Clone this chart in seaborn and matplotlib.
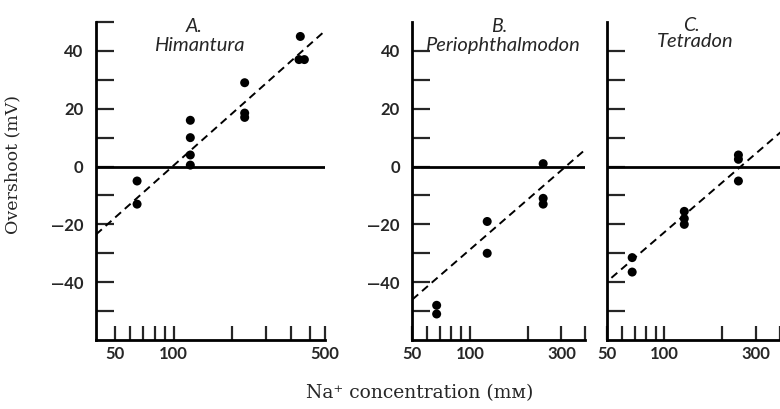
import numpy as np
import matplotlib
matplotlib.use("Agg")
import matplotlib.pyplot as plt
from matplotlib.ticker import NullLocator
import seaborn as sns

# Na+ concentration (mM) and overshoot (mV)
himantura_na = [65, 65, 122, 122, 122, 122, 232, 232, 232, 448, 441, 470]
himantura_os = [-5, -13, 16, 10, 4, 0.5, 29, 18.5, 17, 45, 37, 37]
himantura_fit_na = [40, 590]
himantura_fit_os = [-23.5, 46.5]

perio_na = [67, 67, 123, 123, 241, 241, 241]
perio_os = [-48, -51, -19, -30, 1, -11, -13]
perio_fit_na = [50, 410]
perio_fit_os = [-46, 6.5]

tetradon_na = [68, 68, 127, 127, 127, 243, 243, 243]
tetradon_os = [-31.5, -36.5, -15.5, -18, -20, 4, 2.5, -5]
tetradon_fit_na = [53, 405]
tetradon_fit_os = [-38.5, 12]

panel_letters = ["A.", "B.", "C."]
panel_names = ["Himantura", "Periophthalmodon", "Tetradon"]

x_ticks_a = [50, 60, 70, 80, 90, 100, 200, 300, 400, 500, 600]
x_labels_a = ["50", "", "", "", "", "100", "", "", "", "", "500"]
x_ticks_bc = [50, 60, 70, 80, 90, 100, 200, 300, 400]
x_labels_bc = ["50", "", "", "", "", "100", "", "300", ""]
y_label_vals = [40, 20, 0, -20, -40]

sns.set_style("ticks")
plt.rcParams["font.family"] = ["Lato", "DejaVu Sans"]

fig = plt.figure(figsize=(7.8, 4.09), dpi=100)
bottom, height = 0.1687, 0.7775
ax_a = fig.add_axes([0.1231, bottom, 0.2936, height])
ax_b = fig.add_axes([0.5286, bottom, 0.2218, height])
ax_c = fig.add_axes([0.7776, bottom, 0.2276, height])

panels = [
    (ax_a, himantura_na, himantura_os, himantura_fit_na, himantura_fit_os,
     (40, 600), x_ticks_a, x_labels_a, list(range(-50, 51, 10))),
    (ax_b, perio_na, perio_os, perio_fit_na, perio_fit_os,
     (50, 400), x_ticks_bc, x_labels_bc, list(range(-50, 41, 10))),
    (ax_c, tetradon_na, tetradon_os, tetradon_fit_na, tetradon_fit_os,
     (50, 420), x_ticks_bc, x_labels_bc, list(range(-50, 41, 10))),
]

title_pos = [(0.43, 0.985, 0.925), (0.50, 0.985, 0.925), (0.48, 0.99, 0.94)]

def ylab(v):
    if v in y_label_vals:
        return str(v).replace("-", "\u2014")
    return ""

for i, (ax, na, os_, fna, fos, xlim, xt, xl, yt) in enumerate(panels):
    ax.set_xscale("log")
    ax.axhline(0, color="black", lw=2, zorder=1)
    sns.lineplot(x=fna, y=fos, ax=ax, color="black", lw=1.4,
                 linestyle=(0, (4, 2.6)), zorder=2)
    sns.scatterplot(x=na, y=os_, ax=ax, color="black", s=42,
                    edgecolor="none", linewidth=0, zorder=3)
    ax.set_xlim(*xlim)
    ax.set_ylim(-60, 50)
    ax.xaxis.set_minor_locator(NullLocator())
    ax.set_xticks(xt)
    ax.set_xticklabels(xl)
    ax.set_yticks(yt)
    if i < 2:
        ax.set_yticklabels([ylab(v) for v in yt])
    else:
        ax.set_yticklabels([])
    ax.tick_params(axis="y", direction="in", length=13, width=1.6, pad=9,
                   labelsize=12)
    ax.tick_params(axis="x", direction="in", length=10, width=1.6, pad=4,
                   labelsize=12)
    for lab in ax.get_xticklabels() + ax.get_yticklabels():
        lab.set_fontweight("bold")
    sns.despine(ax=ax)
    for side in ["left", "bottom"]:
        ax.spines[side].set_linewidth(2)
        ax.spines[side].set_color("black")
    tx, ty1, ty2 = title_pos[i]
    ax.text(tx, ty1, panel_letters[i], transform=ax.transAxes, ha="center",
            va="center", fontsize=14, style="italic")
    ax.text(tx + 0.02, ty2, panel_names[i], transform=ax.transAxes,
            ha="center", va="center", fontsize=14.5, style="italic")
    ax.set_xlabel("")
    ax.set_ylabel("")

fig.text(0.016, 0.597, "Overshoot (mV)", rotation=90, ha="center",
         va="center", fontsize=12.5, family=["DejaVu Serif", "DejaVu Sans"])
fig.text(0.538, 0.039, "Na\u207a concentration (m\u1d0d)", ha="center",
         va="center", fontsize=13.5, family=["DejaVu Serif", "DejaVu Sans"])

fig.savefig("out.png", dpi=100)
